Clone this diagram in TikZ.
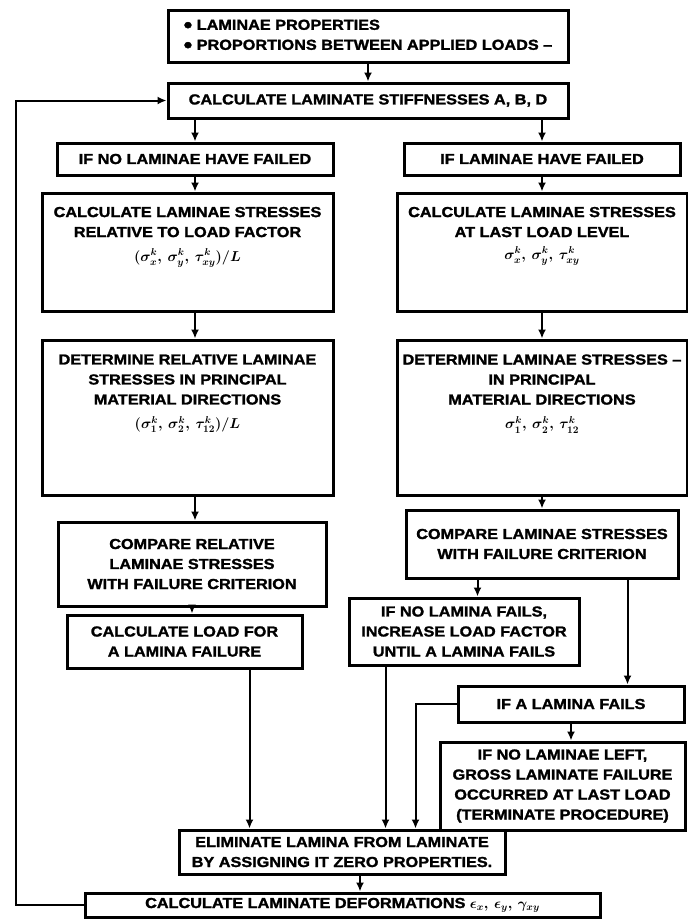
\documentclass[tikz,border=0pt]{standalone}
\usepackage{fontspec}
\setmainfont{Liberation Sans}[FakeStretch=1.12, BoldFeatures={FakeBold=1.6, FakeStretch=1.12}]
\usetikzlibrary{arrows.meta}
\tikzset{
  box/.style={draw, line width=3pt, align=center, inner sep=2pt,
    font=\fontsize{14.5}{20}\selectfont\bfseries\boldmath},
  arr/.style={line width=2pt, -{Latex[length=9pt,width=8pt]}}
}
\newcommand{\bul}{\raisebox{-2.5pt}{\scalebox{1.5}{\textbullet}}\ }
\begin{document}
\begin{tikzpicture}[x=1pt,y=-1pt]
    \useasboundingbox (0,0) rectangle (688,919);

    \node[box, minimum width=400pt, minimum height=52pt, align=left] (props) at (368,36)
        {\bul LAMINAE PROPERTIES\\\bul PROPORTIONS BETWEEN APPLIED LOADS –};
    \node[box, minimum width=400pt, minimum height=35pt] (stiff) at (368,100.5)
        {CALCULATE LAMINATE STIFFNESSES A, B, D};

    \node[box, minimum width=276pt, minimum height=32pt] (nofail) at (195,159)
        {IF NO LAMINAE HAVE FAILED};
    \node[box, minimum width=276pt, minimum height=32pt] (failed) at (542,159)
        {IF LAMINAE HAVE FAILED};

    \node[box, minimum width=291pt, minimum height=118pt, text depth=36pt] (calcL) at (187.5,252)
        {CALCULATE LAMINAE STRESSES\\RELATIVE TO LOAD FACTOR\\[4pt]$(\sigma_x^k,\,\sigma_y^k,\,\tau_{xy}^k)/L$};
    \node[box, minimum width=290pt, minimum height=118pt, text depth=38pt] (calcR) at (542,252)
        {CALCULATE LAMINAE STRESSES\\AT LAST LOAD LEVEL\\[2pt]$\sigma_x^k,\,\sigma_y^k,\,\tau_{xy}^k$};

    \node[box, minimum width=291pt, minimum height=155pt, text depth=52pt] (detL) at (187.5,417.5)
        {DETERMINE RELATIVE LAMINAE\\STRESSES IN PRINCIPAL\\MATERIAL DIRECTIONS\\[4pt]$(\sigma_1^k,\,\sigma_2^k,\,\tau_{12}^k)/L$};
    \node[box, minimum width=290pt, minimum height=155pt, text depth=52pt] (detR) at (542,417.5)
        {DETERMINE LAMINAE STRESSES –\\IN PRINCIPAL\\MATERIAL DIRECTIONS\\[4pt]$\sigma_1^k,\,\sigma_2^k,\,\tau_{12}^k$};

    \node[box, minimum width=268pt, minimum height=84pt] (compL) at (192,564)
        {COMPARE RELATIVE\\LAMINAE STRESSES\\WITH FAILURE CRITERION};
    \node[box, minimum width=272pt, minimum height=68pt] (compR) at (542,544)
        {COMPARE LAMINAE STRESSES\\WITH FAILURE CRITERION};

    \node[box, minimum width=235pt, minimum height=53pt] (load) at (184.5,641.5)
        {CALCULATE LOAD FOR\\A LAMINA FAILURE};
    \node[box, minimum width=230pt, minimum height=67pt] (nofails) at (464,631.5)
        {IF NO LAMINA FAILS,\\INCREASE LOAD FACTOR\\UNTIL A LAMINA FAILS};
    \node[box, minimum width=226pt, minimum height=36pt] (afails) at (571,704)
        {IF A LAMINA FAILS};
    \node[box, minimum width=245pt, minimum height=88pt] (noleft) at (562.5,786)
        {IF NO LAMINAE LEFT,\\GROSS LAMINATE FAILURE\\OCCURRED AT LAST LOAD\\(TERMINATE PROCEDURE)};

    \node[box, minimum width=326pt, minimum height=44pt] (elim) at (342,852)
        {ELIMINATE LAMINA FROM LAMINATE\\BY ASSIGNING IT ZERO PROPERTIES.};
    \node[box, minimum width=515pt, minimum height=24pt, inner sep=1pt] (deform) at (342.5,905)
        {CALCULATE LAMINATE DEFORMATIONS $\epsilon_x,\,\epsilon_y,\,\gamma_{xy}$};

    \draw[arr] (props.south) -- (stiff.north);
    \draw[arr] (nofail.north |- stiff.south) -- (nofail.north);
    \draw[arr] (failed.north |- stiff.south) -- (failed.north);

    \draw[arr] (nofail.south) -- (calcL.north -| nofail);
    \draw[arr] (calcL.south -| nofail) -- (detL.north -| nofail);
    \draw[arr] (detL.south -| nofail) -- (compL.north -| nofail);
    \draw[arr] (compL.south) -- (compL.south |- load.north);
    \draw[arr] ([xshift=-54pt]load.south east) -- ([xshift=-54pt]load.south east |- elim.north);

    \draw[arr] (failed.south) -- (calcR.north);
    \draw[arr] (calcR.south) -- (detR.north);
    \draw[arr] (detR.south) -- (compR.north);
    \draw[arr] ([xshift=73pt]compR.south west) -- ([xshift=73pt]compR.south west |- nofails.north);
    \draw[arr] ([xshift=-52pt]compR.south east) -- ([xshift=-52pt]compR.south east |- afails.north);
    \draw[arr] (afails.south) -- (afails.south |- noleft.north);
    \draw[arr] ([xshift=38pt]nofails.south west) -- ([xshift=38pt]nofails.south west |- elim.north);
    \draw[arr] (afails.west) -| ([xshift=-91pt]elim.north east);

    \draw[arr] ([xshift=18pt]elim.south) -- ([xshift=18pt]elim.south |- deform.north);
    \coordinate (loop) at (16,905);
    \draw[arr] (deform.west) -- (loop) |- (stiff.west);
\end{tikzpicture}
\end{document}
